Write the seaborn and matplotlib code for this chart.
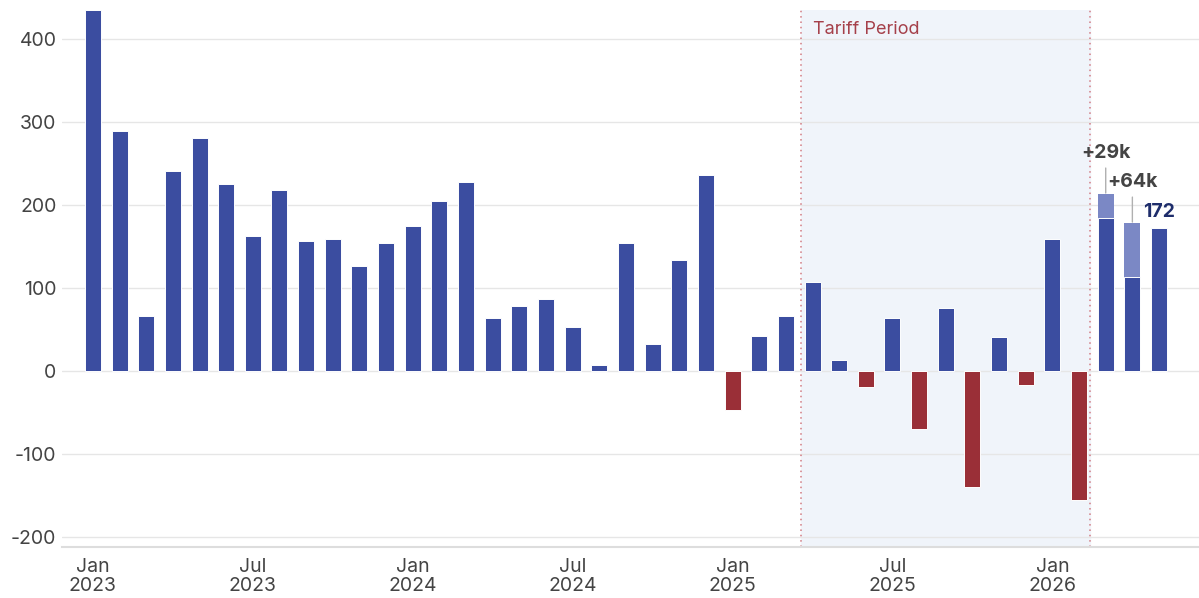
import numpy as np
import pandas as pd
import matplotlib
matplotlib.use('Agg')
import matplotlib.pyplot as plt
import seaborn as sns

sns.set_theme(style='white')
plt.rcParams['font.family'] = ['Inter', 'DejaVu Sans']
plt.rcParams['axes.unicode_minus'] = False

# monthly change, thousands (Jan 2023 .. May 2026)
months = pd.date_range('2023-01-01', '2026-05-01', freq='MS')
values = [435, 290, 67, 241, 281, 225, 163, 218, 157, 159, 127, 154,
          175, 205, 228, 64, 78, 87, 53, 8, 155, 33, 134, 237,
          -47, 42, 66, 107, 13, -19, 64, -70, 76, -140, 41, -17,
          159, -155, 184, 114, 172]
# revisions on top of the latest prints
rev_months = ['2026-03', '2026-04']
rev_values = [29, 64]
rev_labels = ['+29k', '+64k']
last_label = '172'

tariff_start, tariff_end = 26.57, 37.41  # category positions of the shaded period

labels = [m.strftime('%Y-%m') for m in months]
df = pd.DataFrame({'month': labels, 'value': values})
df['sign'] = np.where(df['value'] >= 0, 'up', 'down')
rev = dict(zip(rev_months, rev_values))
df['revised'] = [v + rev[m] if m in rev else np.nan for m, v in zip(labels, values)]

blue = '#3b4da0'
red = '#9a2f37'
light = '#7b88c5'

fig = plt.figure(figsize=(11.99, 5.98), dpi=100)
ax = fig.add_axes([0.0517, 0.085, 0.9483, 0.898])

ax.axvspan(tariff_start, tariff_end, color='#f0f4fa', zorder=0)
for xv in (tariff_start, tariff_end):
    ax.axvline(xv, color='#d27b82', lw=1.1, ls=(0, (1, 2.5)), zorder=1)
ax.text(tariff_start + 0.45, 412, 'Tariff Period', color='#a5404a', fontsize=13, va='center')

for yv in range(-200, 401, 100):
    ax.axhline(yv, color='#e6e6e6', lw=1, zorder=0.5)

sns.barplot(data=df, x='month', y='revised', order=labels, color=light, width=0.6,
            saturation=1, linewidth=0, ax=ax, zorder=2)
sns.barplot(data=df, x='month', y='value', hue='sign', order=labels,
            palette={'up': blue, 'down': red}, width=0.6, dodge=False, legend=False,
            saturation=1, edgecolor='white', linewidth=0.7, ax=ax, zorder=3)

for m, r, lab in zip(rev_months, rev_values, rev_labels):
    i = labels.index(m)
    top = df.loc[i, 'value'] + r
    ax.annotate('', xy=(i, top), xytext=(0, 19), textcoords='offset points',
                arrowprops=dict(arrowstyle='-', color='#b0b0b0', lw=1, shrinkA=0, shrinkB=1))
    ax.annotate(lab, xy=(i, top), xytext=(0, 30), textcoords='offset points',
                ha='center', va='center', fontsize=14, fontweight='bold', color='#444444')

i_last = len(labels) - 1
ax.annotate(last_label, xy=(i_last, values[-1]), xytext=(0, 12), textcoords='offset points',
            ha='center', va='center', fontsize=14, fontweight='bold', color='#1e2d6b')

ax.set_ylim(-212, 435)
ax.set_xlim(-1.16, 41.5)
ax.set_yticks(range(-200, 401, 100))
ax.set_yticklabels([str(v) for v in range(-200, 401, 100)])
xt = list(range(0, len(labels), 6))
ax.set_xticks(xt)
ax.set_xticklabels([months[k].strftime('%b\n%Y') for k in xt])
ax.set_xlabel('')
ax.set_ylabel('')

for s in ['left', 'right', 'top']:
    ax.spines[s].set_visible(False)
ax.spines['bottom'].set_color('#dddddd')
ax.spines['bottom'].set_linewidth(1.5)
ax.tick_params(axis='x', direction='in', length=7, color='#dddddd', width=1,
               labelsize=14, labelcolor='#444444', pad=8)
ax.tick_params(axis='y', length=0, labelsize=14, labelcolor='#444444', pad=4)
for t in ax.get_xticklabels():
    t.set_linespacing(1.05)

fig.savefig('out.png', dpi=100)
